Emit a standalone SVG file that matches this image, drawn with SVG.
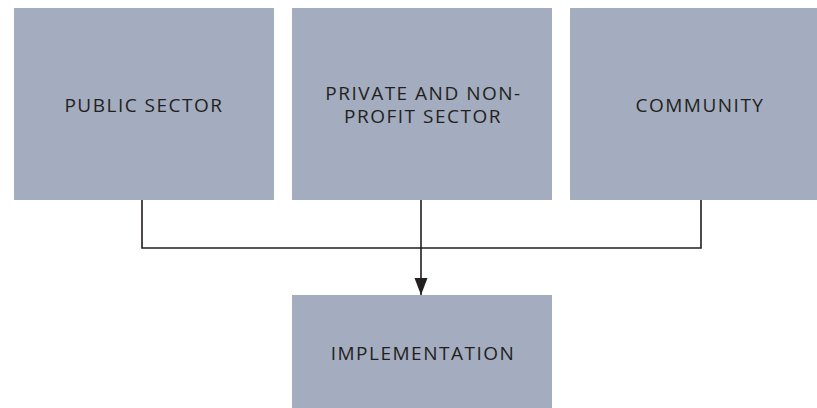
<svg xmlns="http://www.w3.org/2000/svg" width="817" height="408" viewBox="0 0 817 408">
<style>
.box{fill:#a3adbf}
.lbl{font-family:"Open Sans","Noto Sans",sans-serif;font-size:19px;fill:#231f20;text-anchor:middle;letter-spacing:1.5px}
.ln{fill:none;stroke:#231f20;stroke-width:1.6}
</style>
<defs>
<marker id="ah" markerUnits="userSpaceOnUse" markerWidth="17" markerHeight="14" refX="17" refY="6.5" orient="auto">
<path d="M0,0 L17,6.5 L0,13 Z" fill="#231f20"/>
</marker>
</defs>
<g id="connectors">
<polyline class="ln" points="142,200 142,248 701,248 701,200"/>
<line class="ln" x1="421" y1="200" x2="421" y2="295" marker-end="url(#ah)"/>
</g>
<g id="public">
<rect class="box" x="14" y="8" width="260" height="192"/>
<text class="lbl" x="144" y="112">PUBLIC SECTOR</text>
</g>
<g id="private">
<rect class="box" x="292" y="8" width="260" height="192"/>
<text class="lbl" x="423.5" y="100">PRIVATE AND NON-</text>
<text class="lbl" x="423" y="123">PROFIT SECTOR</text>
</g>
<g id="community">
<rect class="box" x="570" y="8" width="247" height="192"/>
<text class="lbl" x="700" y="112">COMMUNITY</text>
</g>
<g id="implementation">
<rect class="box" x="292" y="295" width="260" height="113"/>
<text class="lbl" x="423" y="360">IMPLEMENTATION</text>
</g>
</svg>
